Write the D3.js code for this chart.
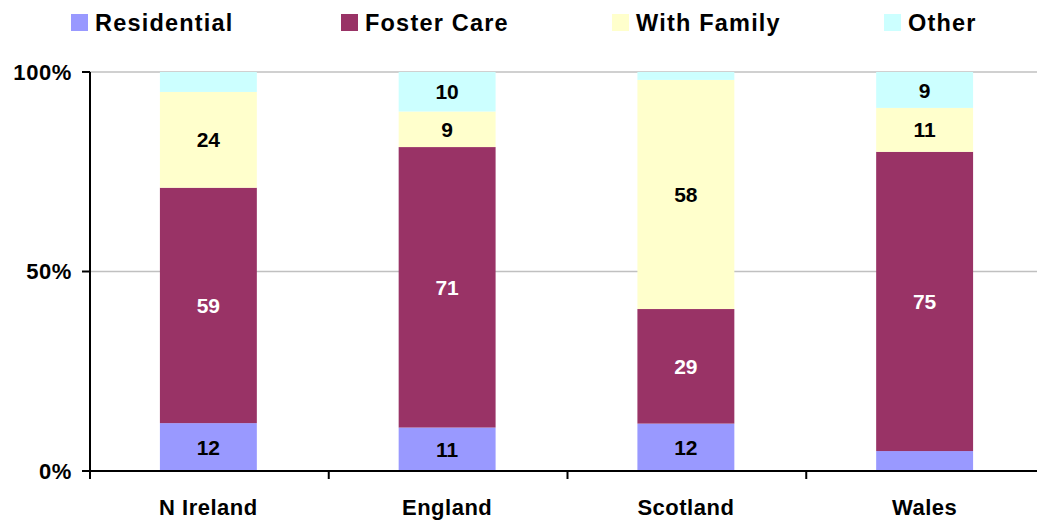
<!DOCTYPE html>
<html>
<head>
<meta charset="utf-8">
<script src="https://cdn.jsdelivr.net/npm/d3@7"></script>
<style>
  body { margin: 0; background: #fff; }
  text { font-family: "Liberation Sans", Arial, sans-serif; font-weight: bold; }
</style>
</head>
<body>
<div id="chart"></div>
<script>
// data (percent of each country)
const countries = ["N Ireland", "England", "Scotland", "Wales"];
const seriesNames = ["Residential", "Foster Care", "With Family", "Other"];
const residential = [12, 11, 12, 5];
const fosterCare = [59, 71, 29, 75];
const withFamily = [24, 9, 58, 11];
const other = [5, 10, 2, 9];
const yTicks = [0, 0.5, 1];

const colors = ["#9999ff", "#993366", "#ffffcc", "#ccffff"];
const labelColors = ["#000", "#fff", "#000", "#000"];

document.addEventListener("DOMContentLoaded", function () {
  const width = 1037, height = 527;
  const margin = { top: 72, left: 90, bottom: 56 };

  const rows = countries.map((c, i) => ({
    country: c,
    "Residential": residential[i],
    "Foster Care": fosterCare[i],
    "With Family": withFamily[i],
    "Other": other[i]
  }));

  const stack = d3.stack().keys(seriesNames).offset(d3.stackOffsetExpand);
  const layers = stack(rows);

  const svg = d3.select("#chart").append("svg")
    .attr("width", width)
    .attr("height", height);

  const x = d3.scaleBand().domain(countries).range([89, 1044]);
  const y = d3.scaleLinear().domain([0, 1]).range([height - margin.bottom, margin.top]);
  const barW = x.bandwidth() * 0.406;

  // gridlines
  svg.selectAll(".grid")
    .data(yTicks.filter(d => d > 0))
    .enter().append("line")
    .attr("class", "grid")
    .attr("x1", margin.left).attr("x2", width)
    .attr("y1", d => y(d)).attr("y2", d => y(d))
    .style("stroke", "#c0c0c0")
    .style("stroke-width", 1.5);

  // bars
  const layer = svg.selectAll(".layer")
    .data(layers)
    .enter().append("g")
    .attr("class", "layer")
    .style("fill", (d, i) => colors[i]);

  layer.selectAll("rect")
    .data(d => d)
    .enter().append("rect")
    .attr("x", d => x(d.data.country) + (x.bandwidth() - barW) / 2)
    .attr("width", barW)
    .attr("y", d => y(d[1]))
    .attr("height", d => y(d[0]) - y(d[1]));

  // value labels (small segments are left blank)
  layers.forEach((l, k) => {
    svg.selectAll(".lbl" + k)
      .data(l.filter(d => d.data[l.key] >= 8))
      .enter().append("text")
      .attr("x", d => x(d.data.country) + x.bandwidth() / 2)
      .attr("y", d => (y(d[0]) + y(d[1])) / 2)
      .attr("dy", ".36em")
      .attr("text-anchor", "middle")
      .style("font-size", "21px")
      .style("fill", labelColors[k])
      .text(d => d.data[l.key]);
  });

  // y axis
  svg.append("line")
    .attr("x1", margin.left).attr("x2", margin.left)
    .attr("y1", y(1)).attr("y2", y(0))
    .style("stroke", "#000").style("stroke-width", 2);

  svg.selectAll(".ytick")
    .data(yTicks)
    .enter().append("line")
    .attr("x1", margin.left - 8).attr("x2", margin.left)
    .attr("y1", d => y(d)).attr("y2", d => y(d))
    .style("stroke", "#000").style("stroke-width", 2);

  svg.selectAll(".ylabel")
    .data(yTicks)
    .enter().append("text")
    .attr("x", 72)
    .attr("y", d => y(d))
    .attr("dy", ".36em")
    .attr("text-anchor", "end")
    .style("font-size", "22px")
    .style("letter-spacing", "0.6px")
    .text(d => d3.format(".0%")(d));

  // x axis
  svg.append("line")
    .attr("x1", margin.left).attr("x2", width)
    .attr("y1", y(0)).attr("y2", y(0))
    .style("stroke", "#000").style("stroke-width", 2);

  svg.selectAll(".xtick")
    .data(countries)
    .enter().append("line")
    .attr("x1", d => x(d) + 1).attr("x2", d => x(d) + 1)
    .attr("y1", y(0)).attr("y2", y(0) + 8)
    .style("stroke", "#000").style("stroke-width", 2);

  svg.selectAll(".xlabel")
    .data(countries)
    .enter().append("text")
    .attr("x", d => x(d) + x.bandwidth() / 2)
    .attr("y", 515)
    .attr("text-anchor", "middle")
    .style("font-size", "22px")
    .style("letter-spacing", "0.5px")
    .text(d => d);

  // legend
  const legendX = [71, 341, 612, 884];
  const legend = svg.selectAll(".legend")
    .data(seriesNames)
    .enter().append("g")
    .attr("class", "legend")
    .attr("transform", (d, i) => `translate(${legendX[i]},14)`);

  legend.append("rect")
    .attr("width", 17).attr("height", 17)
    .style("fill", (d, i) => colors[i]);

  legend.append("text")
    .attr("x", 24)
    .attr("y", 17)
    .style("font-size", "23.5px")
    .style("letter-spacing", "1.2px")
    .text(d => d);
});
</script>
</body>
</html>
